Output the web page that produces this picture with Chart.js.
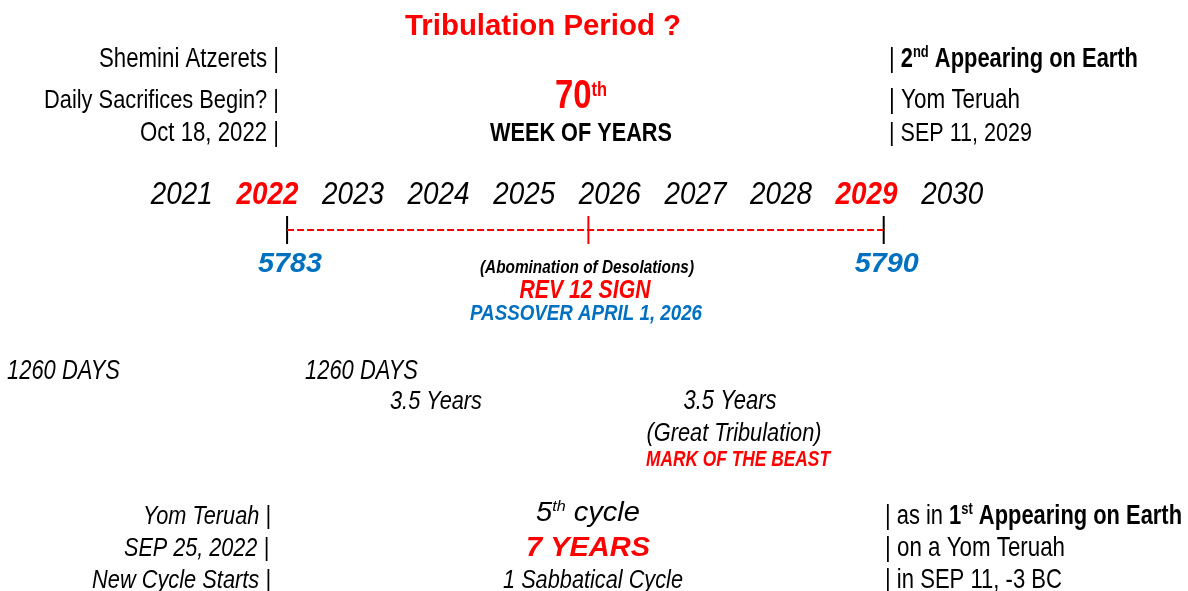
<!DOCTYPE html>
<html><head><meta charset="utf-8">
<script src="https://cdn.jsdelivr.net/npm/chart.js@4.4.1/dist/chart.umd.min.js"></script>
<style>html,body{margin:0;padding:0;background:#fff;overflow:hidden}#wrap{width:1188px;height:591px}</style>
</head><body><div id="wrap"><canvas id="c" width="1188" height="591"></canvas></div>
<script>
// ---- data ----
const years = [2021, 2022, 2023, 2024, 2025, 2026, 2027, 2028, 2029, 2030];
const highlightYears = [2022, 2029];
const markerDates = [2022.73, 2026.25, 2029.70];   // Sep 25 2022, Apr 1 2026, Sep 11 2029
const markerLabels = ['5783', '', '5790'];           // Hebrew years

// ---- styles / layout ----
const RED = '#FF0000', BLUE = '#0070C0', BLACK = '#000000';
const FONT = '"Liberation Sans", Arial, sans-serif';
const NARROW = 0.82;
const LINE_Y = 230, TICK_TOP = 216, TICK_BOT = 244;

const datasets = [{
  data: [{x: markerDates[0], y: LINE_Y}, {x: markerDates[markerDates.length - 1], y: LINE_Y}],
  showLine: true, borderColor: RED, borderWidth: 2, borderDash: [7, 3], pointRadius: 0
}];
markerDates.forEach((d, i) => datasets.push({
  data: [{x: d, y: TICK_TOP}, {x: d, y: TICK_BOT}],
  showLine: true, borderColor: i === 1 ? RED : BLACK, borderWidth: 2, pointRadius: 0
}));

function fontStr(r) { return `${r.i ? 'italic ' : ''}${r.b ? 'bold ' : ''}${r.s}px ${FONT}`; }
function drawRuns(ctx, runs, x, y, align, w, narrow) {
  let total = 0;
  runs.forEach(r => { ctx.font = fontStr(r); r._w = ctx.measureText(r.t).width; total += r._w; });
  const sx = w ? w / total : 1;
  const sy = narrow ? sx / (narrow === 1 ? NARROW : narrow) : 1;
  const dw = total * sx;
  const left = align === 'right' ? x - dw : align === 'center' ? x - dw / 2 : x;
  ctx.save();
  ctx.textAlign = 'left'; ctx.textBaseline = 'alphabetic';
  ctx.translate(left, y); ctx.scale(sx, sy);
  let cx = 0;
  runs.forEach(r => { ctx.font = fontStr(r); ctx.fillStyle = r.c || BLACK; ctx.fillText(r.t, cx, -(r.up || 0)); cx += r._w; });
  ctx.restore();
}
const R = (t, o = {}) => Object.assign({t, s: 22}, o);

const texts = [
  {runs: [R('Tribulation Period ?', {b: 1, s: 29, c: RED})], x: 543, y: 35, a: 'center', w: 276},
  {runs: [R('Shemini Atzerets |')], x: 279, y: 67, a: 'right', w: 180, n: 1},
  {runs: [R('Daily Sacrifices Begin? |')], x: 279, y: 108, a: 'right', w: 235, n: 1},
  {runs: [R('Oct 18, 2022 |')], x: 279, y: 141, a: 'right', w: 139, n: 1},
  {runs: [R('70', {b: 1, s: 36, c: RED}), R('th', {b: 1, s: 18, c: RED, up: 11})], x: 581, y: 108, a: 'center', w: 52, n: 1},
  {runs: [R('WEEK OF YEARS', {b: 1})], x: 581, y: 141, a: 'center', w: 182, n: 1},
  {runs: [R('| '), R('2', {b: 1}), R('nd', {b: 1, s: 13, up: 8}), R(' Appearing on Earth', {b: 1})], x: 889, y: 67, a: 'left', w: 249, n: 1},
  {runs: [R('| Yom Teruah')], x: 889, y: 108, a: 'left', w: 131, n: 1},
  {runs: [R('| SEP 11, 2029')], x: 889, y: 141, a: 'left', w: 143, n: 1},
  {runs: [R('(Abomination of Desolations)', {b: 1, i: 1, s: 15})], x: 587, y: 273, a: 'center', w: 214, n: 1},
  {runs: [R('REV 12 SIGN', {b: 1, i: 1, s: 19, c: RED})], x: 585, y: 298, a: 'center', w: 131, n: 1},
  {runs: [R('PASSOVER APRIL 1, 2026', {b: 1, i: 1, s: 15, c: BLUE})], x: 586, y: 320, a: 'center', w: 232, n: 1},
  {runs: [R('1260 DAYS', {i: 1})], x: 7, y: 379, a: 'left', w: 113, n: 1},
  {runs: [R('1260 DAYS', {i: 1})], x: 305, y: 379, a: 'left', w: 113, n: 1},
  {runs: [R('3.5 Years', {i: 1})], x: 436, y: 409, a: 'center', w: 92, n: 1},
  {runs: [R('3.5 Years', {i: 1})], x: 730, y: 409, a: 'center', w: 93, n: 1},
  {runs: [R('(Great Tribulation)', {i: 1})], x: 734, y: 441, a: 'center', w: 175, n: 1},
  {runs: [R('MARK OF THE BEAST', {b: 1, i: 1, s: 17, c: RED})], x: 738, y: 466, a: 'center', w: 184, n: 1},
  {runs: [R('Yom Teruah |', {i: 1})], x: 271, y: 524, a: 'right', w: 128, n: 1},
  {runs: [R('SEP 25, 2022 |', {i: 1})], x: 269, y: 556, a: 'right', w: 145, n: 1},
  {runs: [R('New Cycle Starts |', {i: 1})], x: 271, y: 588, a: 'right', w: 179, n: 1},
  {runs: [R('5', {i: 1, s: 27}), R('th', {i: 1, s: 15, up: 10}), R(' cycle', {i: 1, s: 27})], x: 588, y: 521, a: 'center', w: 104},
  {runs: [R('7 YEARS', {b: 1, i: 1, s: 28, c: RED})], x: 588, y: 556, a: 'center', w: 124},
  {runs: [R('1 Sabbatical Cycle', {i: 1})], x: 593, y: 588, a: 'center', w: 180, n: 1},
  {runs: [R('| as in '), R('1', {b: 1}), R('st', {b: 1, s: 13, up: 8}), R(' Appearing on Earth', {b: 1})], x: 885, y: 524, a: 'left', w: 297, n: 1},
  {runs: [R('| on a Yom Teruah')], x: 885, y: 556, a: 'left', w: 180, n: 1},
  {runs: [R('| in SEP 11, -3 BC')], x: 885, y: 588, a: 'left', w: 177, n: 1},
];

const textPlugin = {
  id: 'texts',
  afterDatasetsDraw(chart) {
    const ctx = chart.ctx, xs = chart.scales.x;
    // year axis labels (mid-year positions)
    years.forEach(yr => {
      const hi = highlightYears.includes(yr);
      drawRuns(ctx, [R(String(yr), {i: 1, b: hi ? 1 : 0, s: 27, c: hi ? RED : BLACK})],
        xs.getPixelForValue(yr + 0.5), 204, 'center', 62, 0.88);
    });
    // hebrew year labels under markers
    markerDates.forEach((d, i) => {
      if (markerLabels[i]) drawRuns(ctx, [R(markerLabels[i], {b: 1, i: 1, s: 28, c: BLUE})],
        xs.getPixelForValue(d) + 3, 272, 'center', 64);
    });
    texts.forEach(t => drawRuns(ctx, t.runs, t.x, t.y, t.a, t.w, t.n));
  }
};

new Chart(document.getElementById('c'), {
  type: 'scatter',
  data: {datasets},
  options: {
    responsive: false, animation: false,
    layout: {padding: 0},
    plugins: {legend: {display: false}, tooltip: {enabled: false}},
    scales: {
      x: {type: 'linear', display: false, min: 2019.3762, max: 2033.2547},
      y: {type: 'linear', display: false, min: 0, max: 591, reverse: true}
    }
  },
  plugins: [textPlugin]
});
</script>
</body></html>
